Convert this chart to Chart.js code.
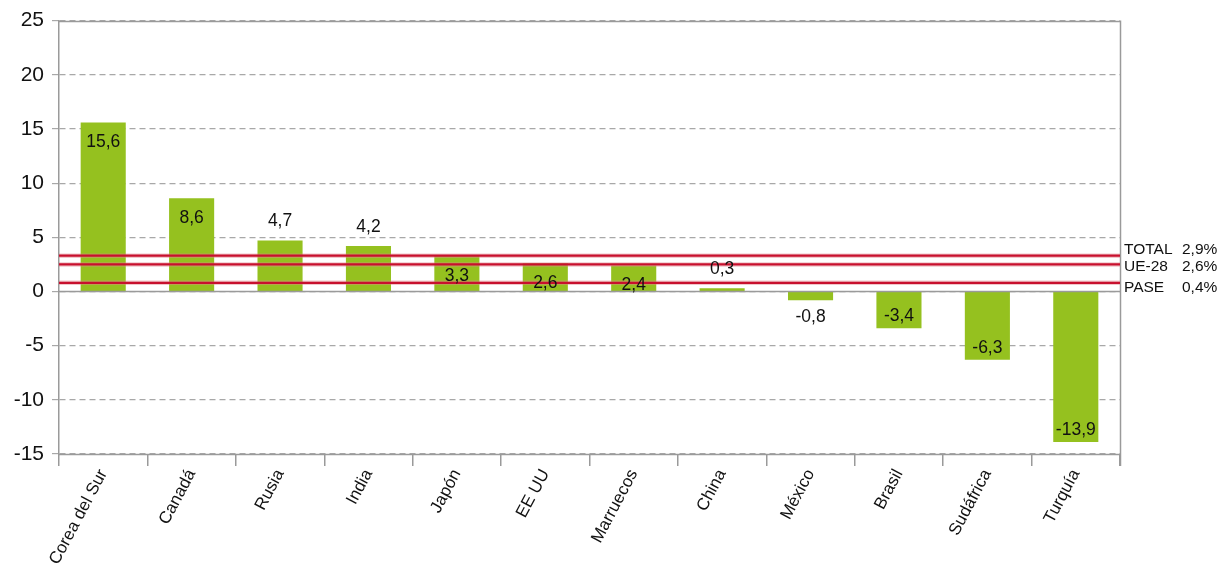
<!DOCTYPE html>
<html>
<head>
<meta charset="utf-8">
<script src="https://cdn.jsdelivr.net/npm/chart.js@4"></script>
<style>
  html, body { margin: 0; padding: 0; background: #fff; overflow: hidden; }
  #wrap { width: 1220px; height: 567px; position: relative; }
</style>
</head>
<body>
<div id="wrap"><canvas id="myBarChart"></canvas></div>
<script>
// data
const countries = ["Corea del Sur", "Canadá", "Rusia", "India", "Japón", "EE UU", "Marruecos", "China", "México", "Brasil", "Sudáfrica", "Turquía"];
const values = [15.6, 8.6, 4.7, 4.2, 3.3, 2.6, 2.4, 0.3, -0.8, -3.4, -6.3, -13.9];
const labelInside = [true, true, false, false, true, true, true, false, false, true, true, true];

const refNames = ["TOTAL", "UE-28", "PASE"];
const refTexts = ["2,9%", "2,6%", "0,4%"];
const refLevels = [3.3, 2.5, 0.8];   // where the red lines sit in the picture
const refNudge = [-6, 2, 5];

const yTicks = [25, 20, 15, 10, 5, 0, -5, -10, -15];

const FONT = "'Liberation Sans', Arial, sans-serif";
const GREEN = '#95c11f';
const RED = '#c8102e';

const linesPlugin = {
    id: 'refLines',
    afterDatasetsDraw(chart) {
        const ctx = chart.ctx;
        const area = chart.chartArea;
        const y = chart.scales.y;

        ctx.save();
        // solid lines at top, zero and bottom
        ctx.strokeStyle = '#9a9a9a';
        ctx.lineWidth = 1.5;
        [y.max, 0, y.min].forEach(v => {
            const py = Math.round(y.getPixelForValue(v)) + 0.5;
            ctx.beginPath();
            ctx.moveTo(area.left, py);
            ctx.lineTo(area.right, py);
            ctx.stroke();
        });
        // right border
        ctx.beginPath();
        ctx.moveTo(area.right + 0.5, area.top);
        ctx.lineTo(area.right + 0.5, area.bottom + 12);
        ctx.stroke();

        // red reference lines
        refLevels.forEach((v, i) => {
            const py = y.getPixelForValue(v);
            ctx.strokeStyle = 'rgba(225,130,140,0.45)';
            ctx.lineWidth = 4.5;
            ctx.beginPath();
            ctx.moveTo(area.left, py);
            ctx.lineTo(area.right, py);
            ctx.stroke();
            ctx.strokeStyle = RED;
            ctx.lineWidth = 2.2;
            ctx.beginPath();
            ctx.moveTo(area.left, py);
            ctx.lineTo(area.right, py);
            ctx.stroke();

            ctx.fillStyle = '#111';
            ctx.font = '15.5px ' + FONT;
            ctx.textBaseline = 'middle';
            ctx.textAlign = 'left';
            ctx.fillText(refNames[i], area.right + 4, py + refNudge[i]);
            ctx.fillText(refTexts[i], area.right + 62, py + refNudge[i]);
        });

        // value labels
        const meta = chart.getDatasetMeta(0);
        ctx.font = '17.5px ' + FONT;
        ctx.fillStyle = '#111';
        ctx.textAlign = 'center';
        ctx.textBaseline = 'middle';
        meta.data.forEach((bar, i) => {
            const v = values[i];
            const txt = v.toFixed(1).replace('.', ',');
            let ty;
            if (v >= 0) {
                ty = labelInside[i] ? bar.y + 20 : bar.y - 19;
            } else {
                ty = labelInside[i] ? bar.y - 12 : bar.y + 17;
            }
            ctx.fillText(txt, bar.x, ty);
        });
        ctx.restore();
    }
};

const ctx = document.getElementById('myBarChart').getContext('2d');
const myBarChart = new Chart(ctx, {
    type: 'bar',
    data: {
        labels: countries,
        datasets: [{
            label: 'Variación',
            data: values,
            backgroundColor: GREEN,
            borderWidth: 0,
            barPercentage: 0.51,
            categoryPercentage: 1.0
        }]
    },
    options: {
        responsive: true,
        maintainAspectRatio: false,
        animation: false,
        layout: { padding: { top: 19, right: 100, left: 0, bottom: 0 } },
        plugins: {
            legend: { display: false },
            tooltip: { enabled: false }
        },
        scales: {
            x: {
                grid: {
                    offset: true,
                    drawOnChartArea: false,
                    drawTicks: true,
                    tickLength: 12,
                    color: '#9a9a9a',
                    lineWidth: 1.5
                },
                border: { display: false },
                ticks: {
                    minRotation: 62,
                    maxRotation: 62,
                    font: { family: FONT, size: 17 },
                    color: '#111',
                    padding: 0
                },
                afterFit(scale) { scale.height = 113; }
            },
            y: {
                min: -15,
                max: 25,
                afterBuildTicks(scale) {
                    scale.ticks = yTicks.map(v => ({ value: v }));
                },
                grid: {
                    color: '#a8a8a8',
                    lineWidth: 1.2,
                    tickLength: 7,
                    tickBorderDash: []
                },
                border: { display: true, color: '#9a9a9a', width: 1.5, dash: [6, 4] },
                ticks: {
                    font: { family: FONT, size: 21 },
                    color: '#111',
                    padding: 8
                },
                afterFit(scale) { scale.width = 59; }
            }
        }
    },
    plugins: [linesPlugin]
});
</script>
</body>
</html>
